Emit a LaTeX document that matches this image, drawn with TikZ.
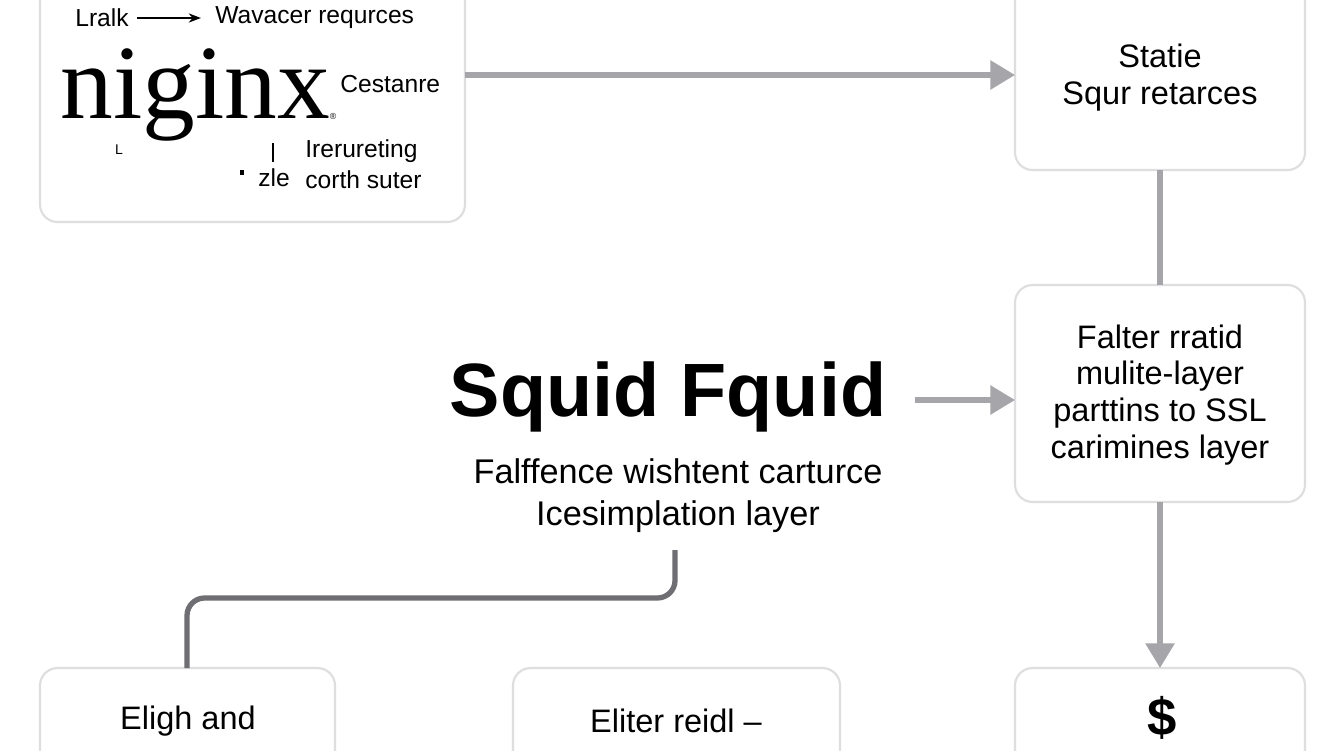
\documentclass[tikz,border=0pt]{standalone}
\usepackage{fontspec}
\setmainfont{Liberation Sans}
\newfontfamily\serifnx{Liberation Serif}
\usetikzlibrary{arrows.meta}
\definecolor{boxline}{RGB}{222,222,222}
\definecolor{linkgray}{RGB}{165,165,170}
\definecolor{elbowgray}{RGB}{110,110,115}
\tikzset{
  card/.style={draw=boxline, line width=1.2pt, rounded corners=10pt, fill=white},
  link/.style={draw=linkgray, line width=3pt, -{Triangle[length=14pt,width=16pt]}},
  boxtext/.style={align=center, font=\fontsize{18.5}{21}\selectfont},
  smalltext/.style={font=\fontsize{14}{16}\selectfont, inner sep=0pt}
}
\begin{document}
\begin{tikzpicture}[x=0.02cm, y=-0.02cm]
    \useasboundingbox[fill=white] (0,0) rectangle (1344,750);
    % Cards
    \draw[card] (40,-20) rectangle (465,222);
    \draw[card] (1015,-20) rectangle (1305,170);
    \draw[card] (1015,285) rectangle (1305,502);
    \draw[card] (40,668) rectangle (335,770);
    \draw[card] (513,668) rectangle (840,770);
    \draw[card] (1015,668) rectangle (1305,770);

    % Named anchors on the cards
    \coordinate (nginxR) at (465,75);
    \coordinate (staticL) at (1015,75);
    \coordinate (staticB) at (1160,170);
    \coordinate (falterT) at (1160,285);
    \coordinate (falterL) at (1015,400);
    \coordinate (falterB) at (1160,502);
    \coordinate (dollarT) at (1160,668);
    \coordinate (leftT) at (187,668);
    \coordinate (squidR) at (915,400);
    \coordinate (squidB) at (675,550);

    % nginx card content
    \node[smalltext, anchor=west] (lralk) at (75,18) {Lralk};
    \node[smalltext, anchor=west] (wavacer) at (215,18) {Wavacer requrces};
    \draw[-{Stealth[length=7pt]}, line width=0.8pt] (lralk.east) ++(8,0) -- ([xshift=-8]wavacer.west);
    \node[font=\serifnx\fontsize{60}{60}\selectfont, inner sep=0pt] (nginx) at (195,95) {niginx};
    \node[font=\fontsize{5}{5}\selectfont, inner sep=0pt] (reg) at (333,116) {®};
    \node[smalltext, anchor=west] (cestanre) at (340,84) {Cestanre};
    \node[font=\fontsize{8}{8}\selectfont, inner sep=0pt] (ell) at (119,150) {L};
    \node[smalltext, anchor=west] (irer) at (305,151) {Irerureting};
    \node[smalltext, anchor=west] (corth) at (305,180) {corth suter};
    \node[smalltext, anchor=west] (zle) at (258,178) {zle};
    \draw[line width=0.6pt] (273,143) -- (273,162);
    \fill (240,170) rectangle (244,175);

    % Static card
    \node[boxtext] (static) at (1160,78) {Statie\\Squr retarces};
    % Falter card
    \node[boxtext] (falter) at (1160,395) {Falter rratid\\mulite-layer\\parttins to SSL\\carimines layer};

    % Centre title
    \node[font=\bfseries\fontsize{43}{43}\selectfont] (squid) at (668,397) {Squid Fquid};
    \node[boxtext, font=\fontsize{19.5}{24}\selectfont] (squidsub) at (678,496) {Falffence wishtent carturce\\Icesimplation layer};

    % Bottom cards
    \node[boxtext] (eligh) at (188,721) {Eligh and};
    \node[boxtext] (eliter) at (676,721) {Eliter reidl --};
    \node[font=\bfseries\fontsize{30}{30}\selectfont, inner sep=1pt] (dollar) at (1162,718) {\$};

    % Connectors
    \draw[link] (nginxR) -- (staticL);
    \draw[draw=linkgray, line width=3pt] (staticB) -- (falterT);
    \draw[link] (squidR) -- (falterL);
    \draw[link] (falterB) -- (dollarT);
    \draw[draw=elbowgray, line width=3pt, rounded corners=10pt] (squidB) |- (428,598) -| (leftT);
\end{tikzpicture}
\end{document}
